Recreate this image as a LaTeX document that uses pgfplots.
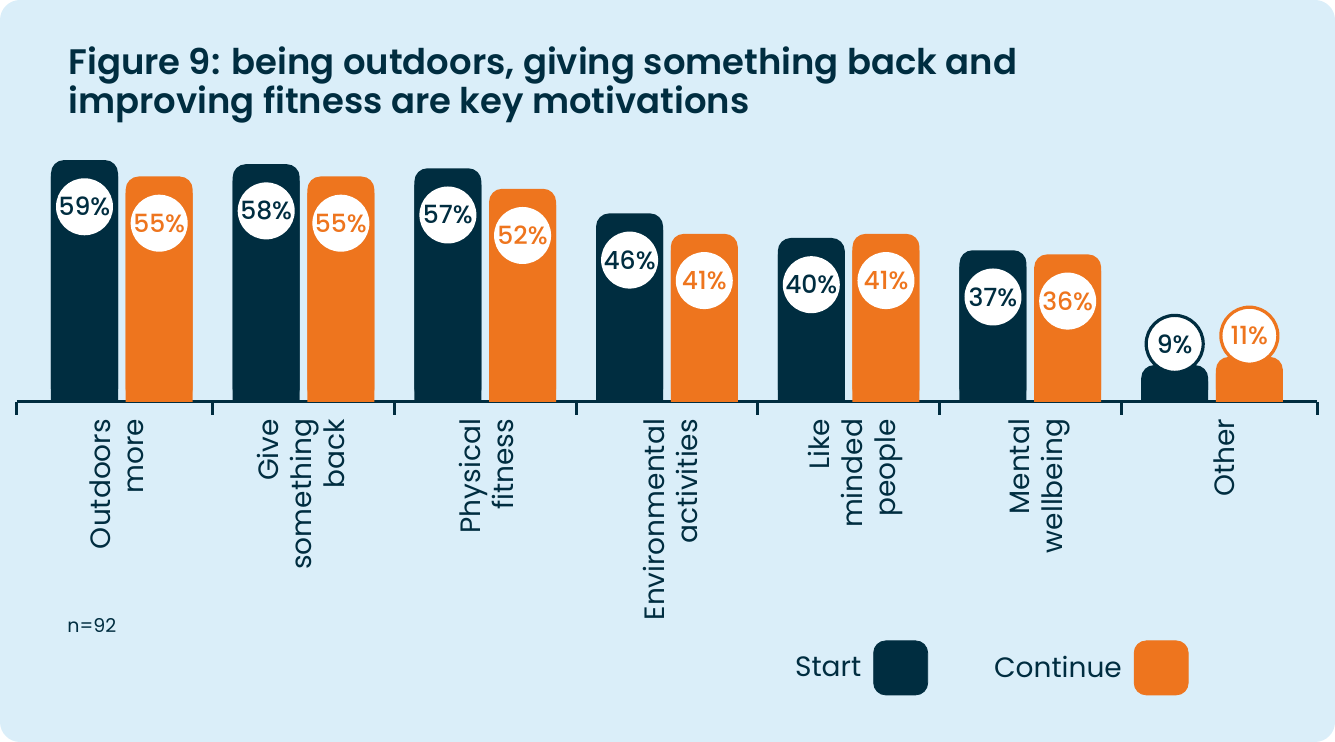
\documentclass[border=0pt]{standalone}
\usepackage{pgfplots}
\pgfplotsset{compat=1.18}
\usepackage{pgfplotstable}
\usepackage{fontspec}
\setmainfont{Poppins}
\newfontfamily\titlefont{Poppins SemiBold}
\newfontfamily\labelfont{Poppins Medium}

\definecolor{navy}{RGB}{0,45,64}
\definecolor{brandorange}{RGB}{238,117,30}
\definecolor{panel}{RGB}{218,238,249}

% share of volunteers naming each motivation (%)
\pgfplotstableread{
x start cont
0 59 55
1 58 55
2 57 52
3 46 41
4 40 41
5 37 36
6 9 11
}\motivations

\pgfplotsset{
  barbase/.style={ybar, bar width=33.5pt, draw=none},
  % value in a white disc inside the top of the bar: #1 colour, #2 bar offset
  insidelabel/.style 2 args={
    nodes near coords={\pgfmathprintnumber[assume math mode=true]{\pgfplotspointmeta}\%},
    every node near coord/.append style={circle, fill=white, text=#1,
      minimum size=28.5pt, inner sep=0pt, anchor=center, xshift=#2, yshift=-23.35pt,
      font=\labelfont\fontsize{12.5}{12.5}\selectfont}},
  % value in an outlined disc just above a short bar
  outsidelabel/.style 2 args={
    nodes near coords={\pgfmathprintnumber[assume math mode=true]{\pgfplotspointmeta}\%},
    every node near coord/.append style={circle, fill=white, draw=#1, line width=1.6pt,
      text=#1, minimum size=28.5pt, inner sep=0pt, anchor=center, xshift=#2, yshift=10.6pt,
      font=\labelfont\fontsize{12.5}{12.5}\selectfont}},
}

\begin{document}
\begin{tikzpicture}
\fill[panel, rounded corners=10pt] (0,0) rectangle (667.5pt,371pt);

\node[anchor=base west, inner sep=0pt, text=navy, font=\titlefont\fontsize{17.7}{19}\selectfont]
  at (34pt,333.5pt) {Figure 9: being outdoors, giving something back and};
\node[anchor=base west, inner sep=0pt, text=navy, font=\titlefont\fontsize{17.7}{19}\selectfont]
  at (34pt,314.3pt) {improving fitness are key motivations};
\node[anchor=base west, inner sep=0pt, text=navy, font=\fontsize{9.5}{11}\selectfont]
  at (33.5pt,54.5pt) {n=92};

\begin{axis}[
  at={(8.5pt,170pt)}, anchor=south west,
  x=90.85pt, y=2.05pt,
  xmin=-0.577, xmax=6.578, ymin=0, ymax=62,
  clip=false,
  axis x line*=bottom, axis y line=none,
  axis line style={navy, line width=1.5pt},
  % category names sit on a slightly wider pitch than the bar groups
  xtick={0,1.016,2.032,3.048,4.064,5.08,6.096},
  xticklabels={{Outdoors\\more},{Give\\something\\back},{Physical\\fitness},
    {Environmental\\activities},{Like\\minded\\people},{Mental\\wellbeing},{Other}},
  major tick length=0pt,
  xticklabel style={rotate=90, anchor=east, align=right, text=navy,
    font=\fontsize{14}{16.5}\selectfont, xshift=-5pt, yshift=2.5pt},
  extra x ticks={-0.577,0.5,1.5,2.5,3.5,4.5,5.5,6.578},
  extra x tick labels={},
  extra x tick style={major tick length=6.5pt, tick align=outside,
    tick style={navy, line width=1.5pt}},
  legend columns=2,
  legend plot pos=right,
  legend style={draw=none, fill=none, inner sep=0pt, outer sep=0pt,
    column sep=0pt, at={(0.5985,-1.046)}, anchor=west,
    nodes={inner sep=0pt, text=navy, font=\fontsize{14}{15}\selectfont}},
]
% square lower parts hide the bottom rounding of the bars
\addplot[barbase, bar shift=-18.67pt, fill=navy, forget plot]
  table[x=x, y expr=\thisrow{start}-4] {\motivations};
\addplot[barbase, bar shift=18.67pt, fill=brandorange, forget plot]
  table[x=x, y expr=\thisrow{cont}-4] {\motivations};

% rounded bars with their value labels
\addplot[barbase, bar shift=-18.67pt, fill=navy, rounded corners=6.5pt, forget plot,
  skip coords between index={6}{7}, insidelabel={navy}{-18.67pt}]
  table[x=x, y=start] {\motivations};
\addplot[barbase, bar shift=18.67pt, fill=brandorange, rounded corners=6.5pt, forget plot,
  skip coords between index={6}{7}, insidelabel={brandorange}{18.67pt}]
  table[x=x, y=cont] {\motivations};
\addplot[barbase, bar shift=-18.67pt, fill=navy, rounded corners=6.5pt, forget plot,
  skip coords between index={0}{6}, outsidelabel={navy}{-18.67pt}]
  table[x=x, y=start] {\motivations};
\addplot[barbase, bar shift=18.67pt, fill=brandorange, rounded corners=6.5pt, forget plot,
  skip coords between index={0}{6}, outsidelabel={brandorange}{18.67pt}]
  table[x=x, y=cont] {\motivations};

\addlegendimage{legend image code/.code={
  \path (0pt,0pt) (66pt,0pt);
  \fill[navy, rounded corners=6pt] (6pt,-13.5pt) rectangle (33pt,13.5pt);}}
\addlegendentry{Start}
\addlegendimage{legend image code/.code={
  \path (0pt,0pt);
  \fill[brandorange, rounded corners=6pt] (6pt,-13.5pt) rectangle (33pt,13.5pt);}}
\addlegendentry{Continue}
\end{axis}
\end{tikzpicture}
\end{document}
